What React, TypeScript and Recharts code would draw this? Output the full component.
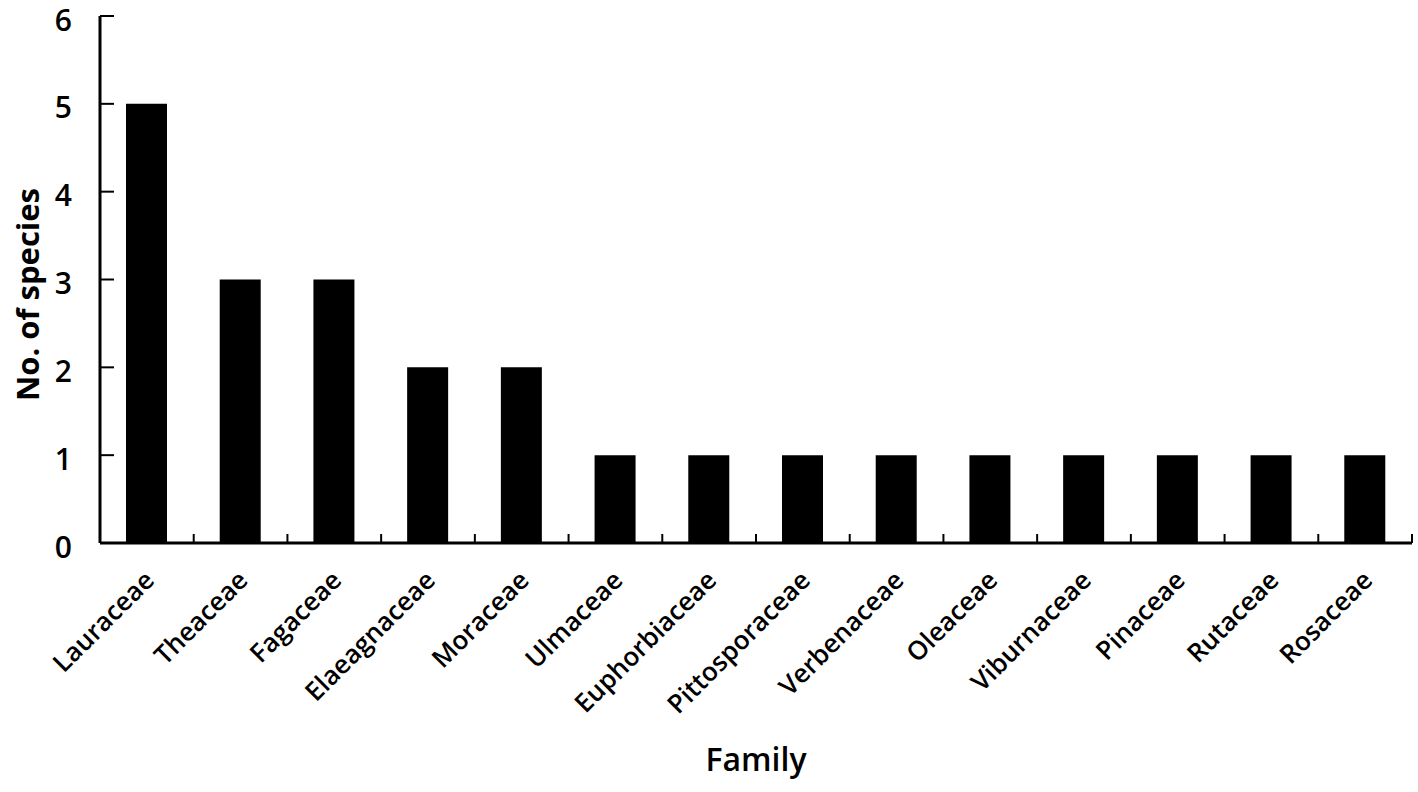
import { Bar, BarChart, Label, XAxis, YAxis } from 'recharts';

const families = [
  'Lauraceae',
  'Theaceae',
  'Fagaceae',
  'Elaeagnaceae',
  'Moraceae',
  'Ulmaceae',
  'Euphorbiaceae',
  'Pittosporaceae',
  'Verbenaceae',
  'Oleaceae',
  'Viburnaceae',
  'Pinaceae',
  'Rutaceae',
  'Rosaceae',
];
const speciesCounts = [5, 3, 3, 2, 2, 1, 1, 1, 1, 1, 1, 1, 1, 1];
const yTicks = [0, 1, 2, 3, 4, 5, 6];

const data = families.map((family, i) => ({ family, count: speciesCounts[i] }));

const FONT = '"Open Sans", "Noto Sans", sans-serif';

function FamilyTick(props: any) {
  const { x, y, payload } = props;
  const half = payload && typeof payload.offset === 'number' ? payload.offset : 0;
  return (
    <g>
      <line x1={x + half} x2={x + half} y1={y} y2={y - 9} stroke="#000" strokeWidth={2} />
      <g transform={`translate(${x - 4},${y + 26}) rotate(-45)`}>
        <text
          x={0}
          y={0}
          dy="0.7em"
          textAnchor="end"
          fill="#000"
          fontSize={26}
          fontWeight={600}
          fontFamily={FONT}
        >
          {payload.value}
        </text>
      </g>
    </g>
  );
}

export default function App() {
  return (
    <div style={{ position: 'absolute', left: 0, top: 0, background: '#fff' }}>
      <BarChart
        width={1418}
        height={792}
        data={data}
        margin={{ top: 16, right: 6, bottom: 0, left: 0 }}
      >
        <XAxis
          dataKey="family"
          interval={0}
          height={249}
          tickLine={false}
          tickSize={0}
          tickMargin={0}
          axisLine={{ stroke: '#000', strokeWidth: 3 }}
          tick={<FamilyTick />}
        >
          <Label
            value="Family"
            position="center"
            dy={92}
            fill="#000"
            fontSize={32}
            fontWeight={600}
            fontFamily={FONT}
          />
        </XAxis>
        <YAxis
          width={100}
          domain={[0, 6]}
          ticks={yTicks}
          interval={0}
          tickSize={-14}
          tickMargin={42}
          tickLine={{ stroke: '#000', strokeWidth: 2 }}
          axisLine={{ stroke: '#000', strokeWidth: 3 }}
          tick={{ fill: '#000', fontSize: 30, fontWeight: 600, fontFamily: FONT, dy: 4 }}
        >
          <Label
            value="No. of species"
            position="center"
            angle={-90}
            dx={-22}
            dy={15}
            fill="#000"
            fontSize={31}
            fontWeight={700}
            fontFamily={FONT}
          />
        </YAxis>
        <Bar dataKey="count" fill="#000" barSize={41} isAnimationActive={false} />
      </BarChart>
    </div>
  );
}
